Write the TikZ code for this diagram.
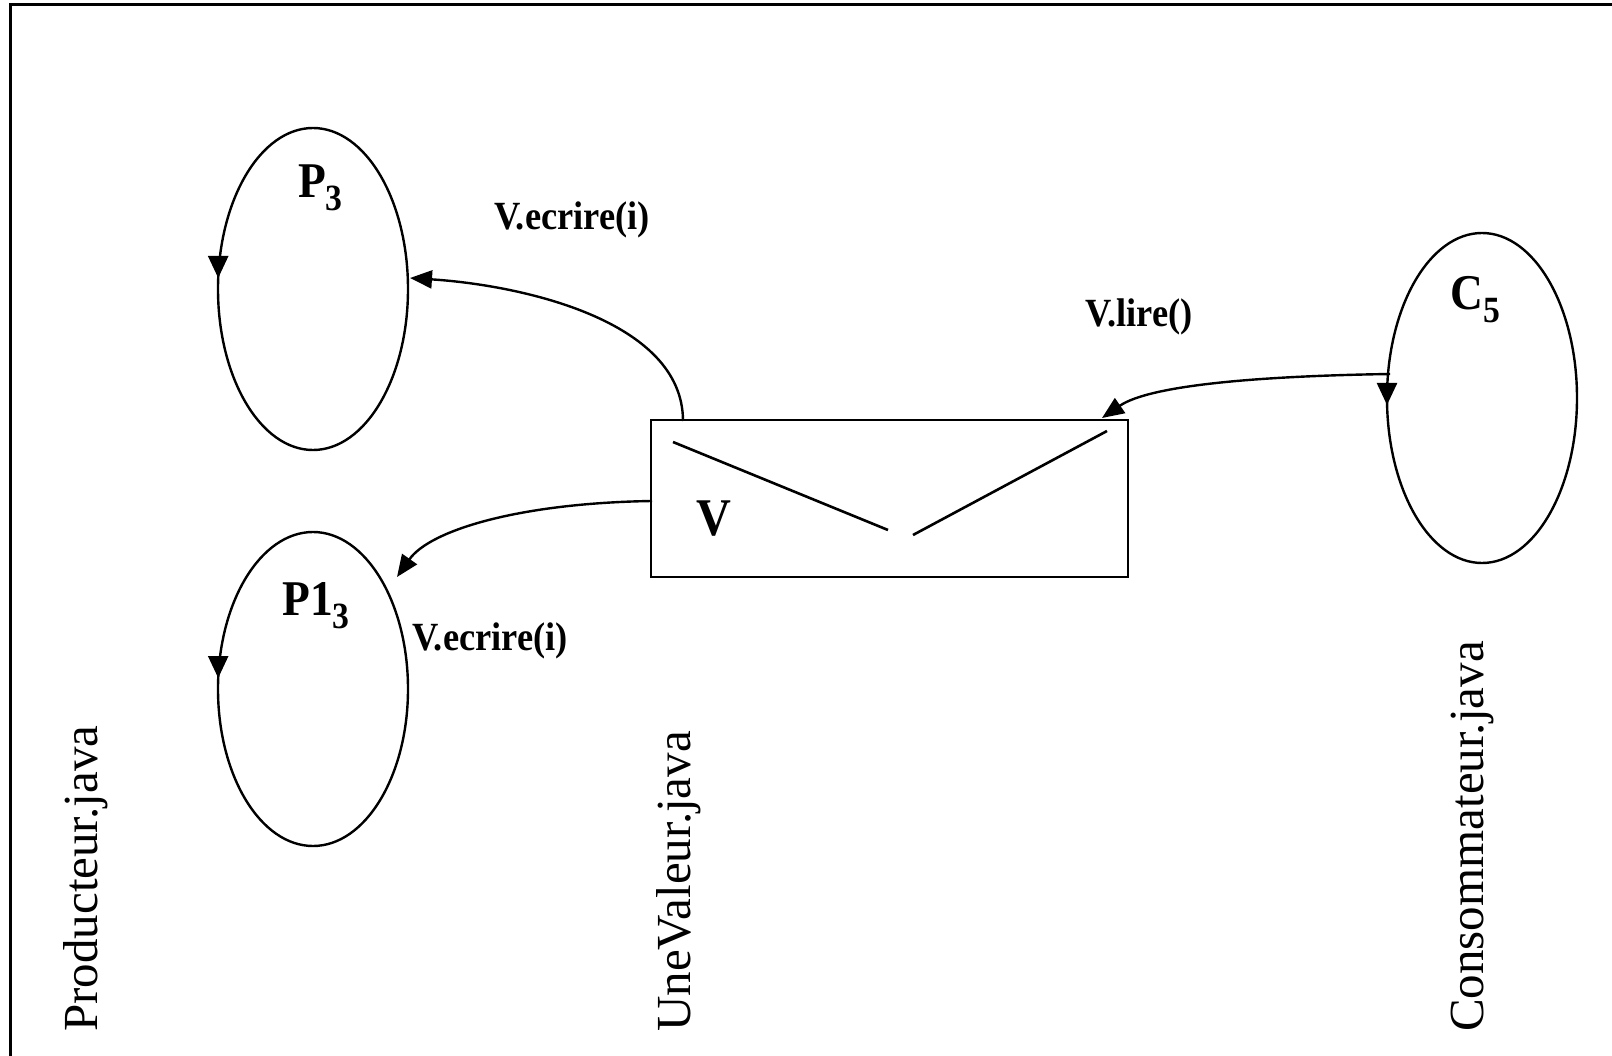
\documentclass[tikz,border=0pt]{standalone}
\usepackage{fontspec}
\setmainfont{Liberation Serif}
\newfontfamily\nb[FakeStretch=0.91]{Liberation Serif}
\usetikzlibrary{shapes.geometric,arrows.meta}
\tikzset{
  proc/.style={ellipse, draw, line width=2.4pt, inner sep=0pt, minimum width=190pt},
  conn/.style={line width=2.4pt, -{Triangle[length=22pt,width=18pt]}},
  cyc/.style={line width=2.4pt, -{Triangle[length=22pt,width=20pt]}},
  blbl/.style={font=\nb\bfseries\fontsize{40}{48}\selectfont, inner sep=0pt, anchor=base},
  plbl/.style={font=\nb\bfseries\fontsize{50}{60}\selectfont, inner sep=0pt, anchor=base west},
  flbl/.style={font=\fontsize{49}{58}\selectfont, inner sep=0pt, rotate=90, anchor=base west}
}
\newcommand{\subnum}[1]{\raisebox{-13pt}{\fontsize{37}{37}\selectfont #1}}
\begin{document}
\begin{tikzpicture}[x=1pt,y=-1pt]
\useasboundingbox (0,0) rectangle (1612,1056);
% frame
\draw[line width=2.6pt] (10.7,1056) -- (10.7,4.5) -- (1612,4.5);
% processes
\node[proc, minimum height=322pt] (P3) at (313,289) {};
\node[proc, minimum height=314pt] (P13) at (313,689) {};
\node[proc, minimum height=330pt] (C5) at (1482,398) {};
\node[plbl] (P3l) at (298,198) {P\subnum{3}};
\node[plbl] (P13l) at (282,615) {P1\subnum{3}};
\node[plbl] (C5l) at (1450,310) {C\subnum{5}};
% cycle arrowheads
\draw[cyc] (218.2,257) -- (218.2,278);
\draw[cyc] (218.2,657) -- (218.2,678);
\draw[cyc] (1387,384) -- (1387,405);
% shared value box
\node[draw, line width=2.8pt, minimum width=477pt, minimum height=157pt, inner sep=0pt] (box) at (889.5,498.5) {};
\draw[line width=2.6pt] (673,442) -- (888,530);
\draw[line width=2.6pt] (913,535) -- (1107,431);
\node[font=\nb\bfseries\fontsize{53}{60}\selectfont, inner sep=0pt, anchor=base] (Vl) at (714,535) {V};
% connectors
\coordinate (s1) at (683,421);
\coordinate (t1) at (410,278);
\coordinate (s2) at (652,501);
\coordinate (t2) at (397,577);
\coordinate (s3) at (1390,374);
\coordinate (t3) at (1102,418);
\draw[conn] (s1) .. controls (683,320) and (520,285) .. (t1);
\draw[conn] (s2) .. controls (520,503) and (430,530) .. (t2);
\draw[conn] (s3) .. controls (1260,376) and (1150,385) .. (t3);
% labels
\node[blbl] (l1) at (572,230) {V.ecrire(i)};
\node[blbl] (l2) at (490,650) {V.ecrire(i)};
\node[blbl] (l3) at (1139,327) {V.lire()};
% file names
\node[flbl] (f1) at (97,1032) {Producteur.java};
\node[flbl] (f2) at (690,1032) {UneValeur.java};
\node[flbl] (f3) at (1483,1032) {Consommateur.java};
\end{tikzpicture}
\end{document}
